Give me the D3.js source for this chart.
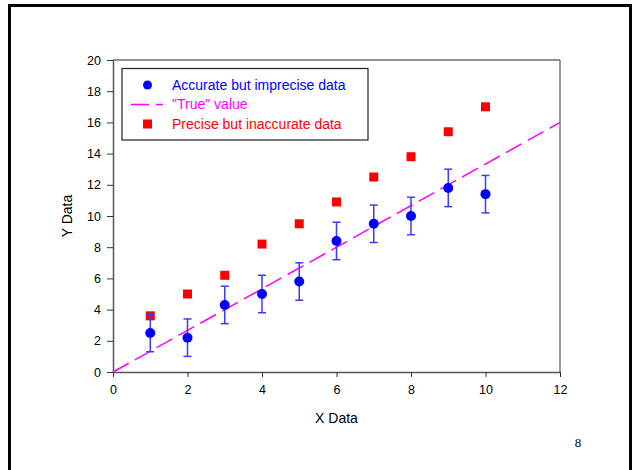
<!DOCTYPE html>
<html>
<head>
<meta charset="utf-8">
<script src="https://cdn.jsdelivr.net/npm/d3@7"></script>
<style>
  body { margin: 0; background: #fff; }
  svg { display: block; font-family: "Liberation Sans", Arial, sans-serif; }
</style>
</head>
<body>
<div id="chart"></div>
<script>
// values
const xValues = [1, 2, 3, 4, 5, 6, 7, 8, 9, 10];
const accurateY = [2.5, 2.2, 4.3, 5.0, 5.8, 8.4, 9.5, 10.0, 11.8, 11.4];
const accurateErr = [1.2, 1.2, 1.2, 1.2, 1.2, 1.2, 1.2, 1.2, 1.2, 1.2];
const preciseY = [3.6, 5.0, 6.2, 8.2, 9.5, 10.9, 12.5, 13.8, 15.4, 17.0];
const trueLineX = [0, 12];
const trueLineY = [0, 16];
const xTicks = [0, 2, 4, 6, 8, 10, 12];
const yTicks = [0, 2, 4, 6, 8, 10, 12, 14, 16, 18, 20];

const width = 634, height = 470;
const margin = { top: 60, right: 74, bottom: 98, left: 113 };

const svg = d3.select("#chart")
  .append("svg")
  .attr("width", width)
  .attr("height", height);

// slide frame
svg.append("rect")
  .attr("x", 9.5).attr("y", 5.5)
  .attr("width", 621).attr("height", 480)
  .attr("fill", "none")
  .attr("stroke", "#000")
  .attr("stroke-width", 3);

const x = d3.scaleLinear().domain([0, 12]).range([margin.left, width - margin.right]);
const y = d3.scaleLinear().domain([0, 20]).range([height - margin.bottom, margin.top]);

// top and right edges of the plot box
svg.append("line")
  .attr("x1", x(0)).attr("x2", x(12))
  .attr("y1", y(20)).attr("y2", y(20))
  .attr("stroke", "#222").attr("stroke-width", 1.2);
svg.append("line")
  .attr("x1", x(12)).attr("x2", x(12))
  .attr("y1", y(20)).attr("y2", y(0))
  .attr("stroke", "#777").attr("stroke-width", 1.5);

const xAxis = d3.axisBottom(x).tickValues(xTicks).tickSizeInner(5).tickSizeOuter(0).tickPadding(8);
const yAxis = d3.axisLeft(y).tickValues(yTicks).tickSizeInner(6).tickSizeOuter(0).tickPadding(6);

const gx = svg.append("g")
  .attr("transform", `translate(0, ${y(0)})`)
  .call(xAxis);
const gy = svg.append("g")
  .attr("transform", `translate(${x(0)}, 0)`)
  .call(yAxis);

[gx, gy].forEach(g => {
  g.select("path.domain").attr("stroke", "#555").attr("stroke-width", 1.5);
  g.selectAll(".tick line").attr("stroke", "#333");
  g.selectAll("text")
    .style("font-size", "12.5px")
    .style("font-family", "Liberation Sans, Arial, sans-serif")
    .attr("fill", "#000");
});

// axis titles
svg.append("text")
  .attr("x", (x(0) + x(12)) / 2)
  .attr("y", 423)
  .attr("text-anchor", "middle")
  .style("font-size", "14px")
  .text("X Data");
svg.append("text")
  .attr("transform", `translate(72, ${(y(0) + y(20)) / 2}) rotate(-90)`)
  .attr("text-anchor", "middle")
  .style("font-size", "14px")
  .text("Y Data");

// "True" value line
const line = d3.line().x(d => x(d[0])).y(d => y(d[1]));
svg.append("path")
  .datum(d3.zip(trueLineX, trueLineY))
  .attr("d", line)
  .attr("fill", "none")
  .attr("stroke", "#ff00ff")
  .attr("stroke-width", 1.5)
  .attr("stroke-dasharray", "18,7");

// precise but inaccurate data
const sq = 9;
svg.append("g")
  .selectAll("rect")
  .data(d3.zip(xValues, preciseY))
  .enter()
  .append("rect")
  .attr("x", d => x(d[0]) - sq / 2)
  .attr("y", d => y(d[1]) - sq / 2)
  .attr("width", sq)
  .attr("height", sq)
  .attr("fill", "#ff0000");

// error bars
const accurate = xValues.map((v, i) => ({ x: v, y: accurateY[i], e: accurateErr[i] }));
const bars = svg.append("g")
  .attr("stroke", "#3b3bff")
  .attr("stroke-width", 1.5);
bars.selectAll("line.stem")
  .data(accurate)
  .enter()
  .append("line")
  .attr("x1", d => x(d.x)).attr("x2", d => x(d.x))
  .attr("y1", d => y(d.y - d.e)).attr("y2", d => y(d.y + d.e));
bars.selectAll("line.capTop")
  .data(accurate)
  .enter()
  .append("line")
  .attr("x1", d => x(d.x) - 4).attr("x2", d => x(d.x) + 4)
  .attr("y1", d => y(d.y + d.e)).attr("y2", d => y(d.y + d.e));
bars.selectAll("line.capBottom")
  .data(accurate)
  .enter()
  .append("line")
  .attr("x1", d => x(d.x) - 4).attr("x2", d => x(d.x) + 4)
  .attr("y1", d => y(d.y - d.e)).attr("y2", d => y(d.y - d.e));

// accurate but imprecise data
svg.append("g")
  .selectAll("circle")
  .data(accurate)
  .enter()
  .append("circle")
  .attr("cx", d => x(d.x))
  .attr("cy", d => y(d.y))
  .attr("r", 5)
  .attr("fill", "#0000ff");

// legend
const legend = svg.append("g");
legend.append("rect")
  .attr("x", 122).attr("y", 68.5)
  .attr("width", 246).attr("height", 71.5)
  .attr("fill", "#fff")
  .attr("stroke", "#222")
  .attr("stroke-width", 1.2);
legend.append("circle")
  .attr("cx", 147.5).attr("cy", 85).attr("r", 4.5)
  .attr("fill", "#0000ff");
legend.append("line")
  .attr("x1", 131).attr("x2", 163)
  .attr("y1", 104.5).attr("y2", 104.5)
  .attr("stroke", "#ff00ff")
  .attr("stroke-width", 1.5)
  .attr("stroke-dasharray", "18,7");
legend.append("rect")
  .attr("x", 143).attr("y", 119.5)
  .attr("width", 9).attr("height", 9)
  .attr("fill", "#ff0000");

const legendText = [
  { label: "Accurate but imprecise data", color: "#0000ff", y: 85 },
  { label: "\"True\" value", color: "#ff00ff", y: 104.5 },
  { label: "Precise but inaccurate data", color: "#ff0000", y: 124 }
];
legend.selectAll("text")
  .data(legendText)
  .enter()
  .append("text")
  .attr("x", 172)
  .attr("y", d => d.y)
  .attr("dy", "0.35em")
  .attr("fill", d => d.color)
  .style("font-size", "14px")
  .text(d => d.label);

// slide page number
svg.append("text")
  .attr("x", 578)
  .attr("y", 447)
  .attr("text-anchor", "middle")
  .style("font-family", "Liberation Serif, Times New Roman, serif")
  .style("font-size", "13px")
  .text("8");
</script>
</body>
</html>
